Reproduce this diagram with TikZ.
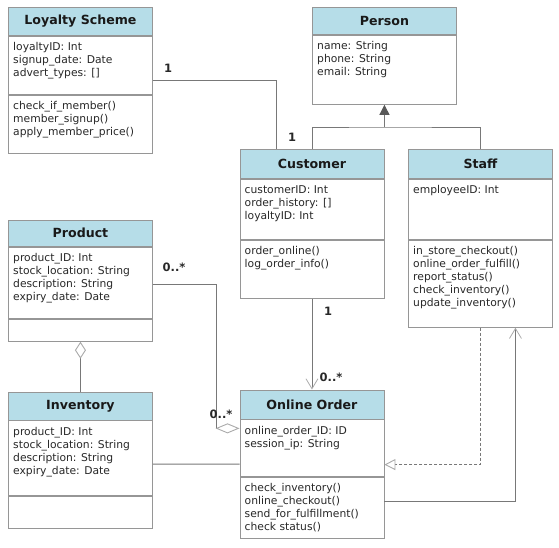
\documentclass[tikz,border=0pt]{standalone}
\usepackage{fontspec}
\setmainfont{DejaVu Sans}
\usetikzlibrary{arrows.meta}

\definecolor{headblue}{RGB}{182,221,232}
\definecolor{boxline}{RGB}{150,150,150}
\definecolor{connline}{RGB}{120,120,120}
\definecolor{headline}{RGB}{170,170,170}
\definecolor{txtcol}{RGB}{40,40,40}

\tikzset{
  umlhead/.style={draw=boxline, fill=headblue, line width=0.9pt, minimum width=144pt,
    anchor=north west, inner sep=0pt, text=black!90,
    font=\fontsize{12.6}{14}\selectfont\bfseries},
  umlsect/.style={draw=boxline, fill=white, line width=0.9pt, minimum width=144pt,
    anchor=north west, inner sep=0pt},
  umltext/.style={anchor=north west, inner sep=0pt, align=left, text=txtcol,
    font=\fontsize{10.75}{13}\selectfont},
  conn/.style={draw=connline, line width=0.9pt},
  mult/.style={inner sep=0pt, text=txtcol, font=\fontsize{11.5}{13}\selectfont\bfseries},
  openv/.style={-{Straight Barb[length=10pt,width=12pt,line width=0.8pt,color=headline]}},
}

% one class box: name, top-left corner, header/attribute/method heights, title, attributes, methods
\newcommand{\umlclass}[8]{%
  \node[umlhead, minimum height=#3] (#1) at #2 {#6};
  \node[umlsect, minimum height=#4] (#1-a) at (#1.south west) {};
  \node[umltext] (#1-at) at ([shift={(5,6.5)}]#1-a.north west) {#7};
  \node[umlsect, minimum height=#5] (#1-m) at (#1-a.south west) {};
  \node[umltext] (#1-mt) at ([shift={(5,6)}]#1-m.north west) {#8};
}

\begin{document}
\begin{tikzpicture}[x=1pt,y=-1pt]
\useasboundingbox (0,0) rectangle (559,548);

\umlclass{loyal}{(8,7)}{28pt}{58pt}{58pt}{Loyalty Scheme}
  {loyaltyID: Int\\signup\_date: Date\\advert\_types: []}
  {check\_if\_member()\\member\_signup()\\apply\_member\_price()}

% Person has no method compartment
\node[umlhead, minimum height=27pt] (person) at (312,7) {Person};
\node[umlsect, minimum height=69pt] (person-a) at (person.south west) {};
\node[umltext] (person-at) at ([shift={(5,6.5)}]person-a.north west)
  {name: String\\phone: String\\email: String};

\umlclass{cust}{(239.5,149.5)}{28.5pt}{60.5pt}{58pt}{Customer}
  {customerID: Int\\order\_history: []\\loyaltyID: Int}
  {order\_online()\\log\_order\_info()}

\umlclass{staff}{(408,149.5)}{28.5pt}{60pt}{87pt}{Staff}
  {employeeID: Int}
  {in\_store\_checkout()\\online\_order\_fulfill()\\report\_status()\\check\_inventory()\\update\_inventory()}

\umlclass{prod}{(8,219.5)}{26.5pt}{71pt}{22pt}{Product}
  {product\_ID: Int\\stock\_location: String\\description: String\\expiry\_date: Date}
  {}

\umlclass{inv}{(8,392)}{27.5pt}{75pt}{31.5pt}{Inventory}
  {product\_ID: Int\\stock\_location: String\\description: String\\expiry\_date: Date}
  {}

\umlclass{order}{(239.5,389.5)}{29pt}{56.5pt}{61pt}{Online Order}
  {online\_order\_ID: ID\\session\_ip: String}
  {check\_inventory()\\online\_checkout()\\send\_for\_fulfillment()\\check status()}

% Loyalty Scheme -- Customer
\draw[conn] ([yshift=-15pt]loyal-a.east) -| ([xshift=-35.75pt]cust.north);
\node[mult] (m-loyal) at (168,68) {1};
\node[mult] (m-cust) at (292,137) {1};

% generalisation: Customer, Staff -> Person
\coordinate (gen) at (person.south |- 0,127);
\draw[conn] (cust.north) |- (gen) -| (staff.north);
\draw[conn, -{Triangle[length=10pt,width=10pt,color=black!65]}] (gen) -- (person-a.south);

% Customer -> Online Order
\draw[conn, openv] (cust-m.south) -- (order.north);
\node[mult] (m-c1) at (328,311) {1};
\node[mult] (m-c2) at (331,377) {0..*};

% Product <>-- Online Order
\draw[conn, -{Diamond[open,length=24pt,width=10pt,color=headline,fill=white]}]
  ([yshift=-1.5pt]prod-a.east) -- ++(64,0) |- ([yshift=19.75pt]order-a.west);
\node[mult] (m-p1) at (174,267) {0..*};
\node[mult] (m-p2) at (221,414) {0..*};

% Product <>-- Inventory
\draw[conn, -{Diamond[open,length=17pt,width=11pt,color=headline,fill=white]}]
  (inv.north) -- (prod-m.south);

% Inventory -- Online Order
\draw[conn] ([yshift=-5.7pt]inv-a.east) -- ([yshift=-16pt]order-a.west);

% Staff realises Online Order (dashed)
\draw[conn, dash pattern=on 3pt off 2pt,
  -{Triangle[open,length=11pt,width=11pt,color=headline,fill=white]}]
  (staff-m.south) |- ([yshift=-16.5pt]order-a.east);

% Online Order -> Staff
\draw[conn, openv] ([yshift=6.2pt]order-m.east) -| ([xshift=35pt]staff-m.south);
\end{tikzpicture}
\end{document}
